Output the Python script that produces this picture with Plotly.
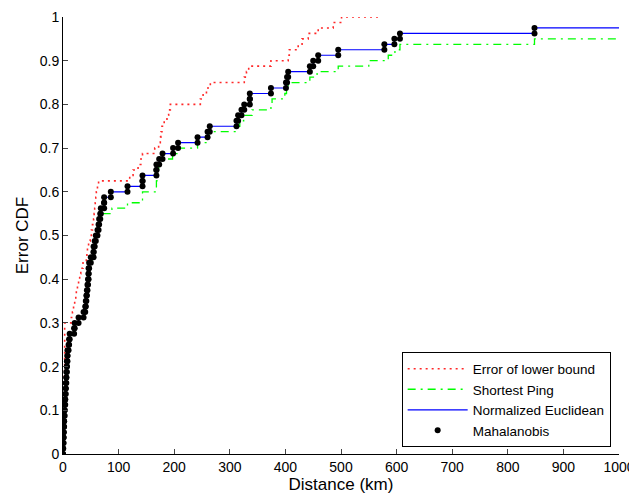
import plotly.graph_objects as go

N_TOTAL = 80  # number of test targets per method

# Sorted error distances (km)
lower_bound_km = [0, 0, 0.5, 0.5, 1, 1, 1, 1.5, 1.5, 2, 2, 2, 2.5, 2.5, 2.5, 3, 3, 3, 3, 3, 3, 3, 3, 3,
                  15, 17, 19, 21, 23, 24, 26, 28, 30, 32, 36, 42, 43, 44, 46, 49,
                  51, 53, 55, 56, 57, 58, 59, 60, 62, 64, 120, 126, 135, 140, 143, 165,
                  172, 175, 176, 178, 182, 187, 190, 193, 247, 252, 258, 265, 326, 330,
                  334, 374, 405, 407, 423, 430, 441, 459, 486, 501]
lower_bound_end = 568

shortest_ping_km = [0, 0.5, 1, 1, 1.5, 2, 2, 3, 3, 4, 4, 5, 5, 6, 6, 7, 7, 8, 9,
                    10, 11, 13, 21, 22, 30, 38, 41, 42, 43, 44, 45, 46, 47, 48, 50,
                    52, 56, 57, 58, 60, 63, 65, 66, 70, 88, 116, 143, 143, 168, 168,
                    169, 170, 172, 173, 197, 207, 242, 260, 262, 312, 318, 325, 340,
                    374, 376, 399, 402, 405, 444, 457, 495, 550, 585, 597, 606, 848]

euclidean_km = [0, 0.5, 1, 1, 1.5, 2, 2, 3, 3, 4, 4, 5, 5, 6, 6, 7, 7, 8, 8,
                10, 11, 12, 20, 21, 28, 37, 40, 41, 42, 43, 44, 45, 46, 46, 47,
                50, 55, 55, 57, 59, 62, 64, 65, 67, 68, 74, 74, 86, 116, 143, 143,
                168, 168, 173, 179, 198, 207, 242, 260, 264, 312, 315, 321, 326,
                336, 336, 374, 401, 403, 405, 444, 450, 459, 495, 578, 596, 606, 848]

mahalanobis_km = [0, 0.5, 1, 1, 1.5, 2, 2, 3, 3, 4, 4, 5, 5, 6, 6, 7, 7, 8, 8,
                  10, 11, 12, 20, 21, 28, 37, 40, 41, 42, 43, 44, 45, 46, 46, 47,
                  50, 55, 55, 57, 59, 62, 64, 65, 67, 68, 74, 74, 86, 116, 143, 143,
                  168, 168, 173, 179, 198, 207, 242, 260, 264, 312, 315, 321, 326,
                  336, 336, 374, 401, 403, 405, 444, 450, 459, 495, 578, 596, 606, 848]

x_ticks = [0, 100, 200, 300, 400, 500, 600, 700, 800, 900, 1000]
y_ticks = [0, 0.1, 0.2, 0.3, 0.4, 0.5, 0.6, 0.7, 0.8, 0.9, 1]


def ecdf_stairs(dists, x_end):
    xs = [0]
    ys = [0]
    for i, d in enumerate(dists):
        xs.append(d)
        ys.append((i + 1) / N_TOTAL)
    xs.append(x_end)
    ys.append(ys[-1])
    return xs, ys


def ecdf_vertices(dists):
    xs = [0]
    ys = [0]
    for i, d in enumerate(dists):
        xs += [d, d]
        ys += [i / N_TOTAL, (i + 1) / N_TOTAL]
    return xs, ys


fig = go.Figure()

rx, ry = ecdf_stairs(lower_bound_km, lower_bound_end)
fig.add_trace(go.Scatter(x=rx, y=ry, mode="lines", line_shape="hv",
                         name="Error of lower bound",
                         line=dict(color="rgb(255,40,40)", width=1.6, dash="2px,4px")))

gx, gy = ecdf_stairs(shortest_ping_km, 1000)
fig.add_trace(go.Scatter(x=gx, y=gy, mode="lines", line_shape="hv",
                         name="Shortest Ping",
                         line=dict(color="rgb(0,255,0)", width=1.3, dash="8px,5px,2px,5px")))

bx, by = ecdf_stairs(euclidean_km, 1000)
fig.add_trace(go.Scatter(x=bx, y=by, mode="lines", line_shape="hv",
                         name="Normalized Euclidean",
                         line=dict(color="rgb(0,0,255)", width=1.2)))

mx, my = ecdf_vertices(mahalanobis_km)
fig.add_trace(go.Scatter(x=mx, y=my, mode="markers", name="Mahalanobis",
                         marker=dict(color="black", size=6)))

fig.update_layout(
    width=629, height=490,
    margin=dict(l=55, r=18, t=9, b=44, autoexpand=False),
    paper_bgcolor="white", plot_bgcolor="white",
    font=dict(family="Liberation Sans, Arial, sans-serif", size=14, color="black"),
    showlegend=True,
    legend=dict(x=0.985, y=0.015, xanchor="right", yanchor="bottom",
                bgcolor="white", bordercolor="black", borderwidth=1,
                font=dict(size=13.5), tracegroupgap=0, itemwidth=60),
    xaxis=dict(range=[0, 1000], tickvals=x_ticks, ticks="inside", ticklen=5,
               showline=True, linecolor="black", linewidth=1, showgrid=False,
               zeroline=False, automargin=False,
               title=dict(text="Distance (km)", standoff=2),
               tickfont=dict(size=14)),
    yaxis=dict(range=[0, 1], tickvals=y_ticks, ticks="inside", ticklen=5,
               showline=True, linecolor="black", linewidth=1, showgrid=False,
               zeroline=False, automargin=False,
               title=dict(text="Error CDF", standoff=6),
               tickfont=dict(size=14)),
)

fig.write_html("out.html")
